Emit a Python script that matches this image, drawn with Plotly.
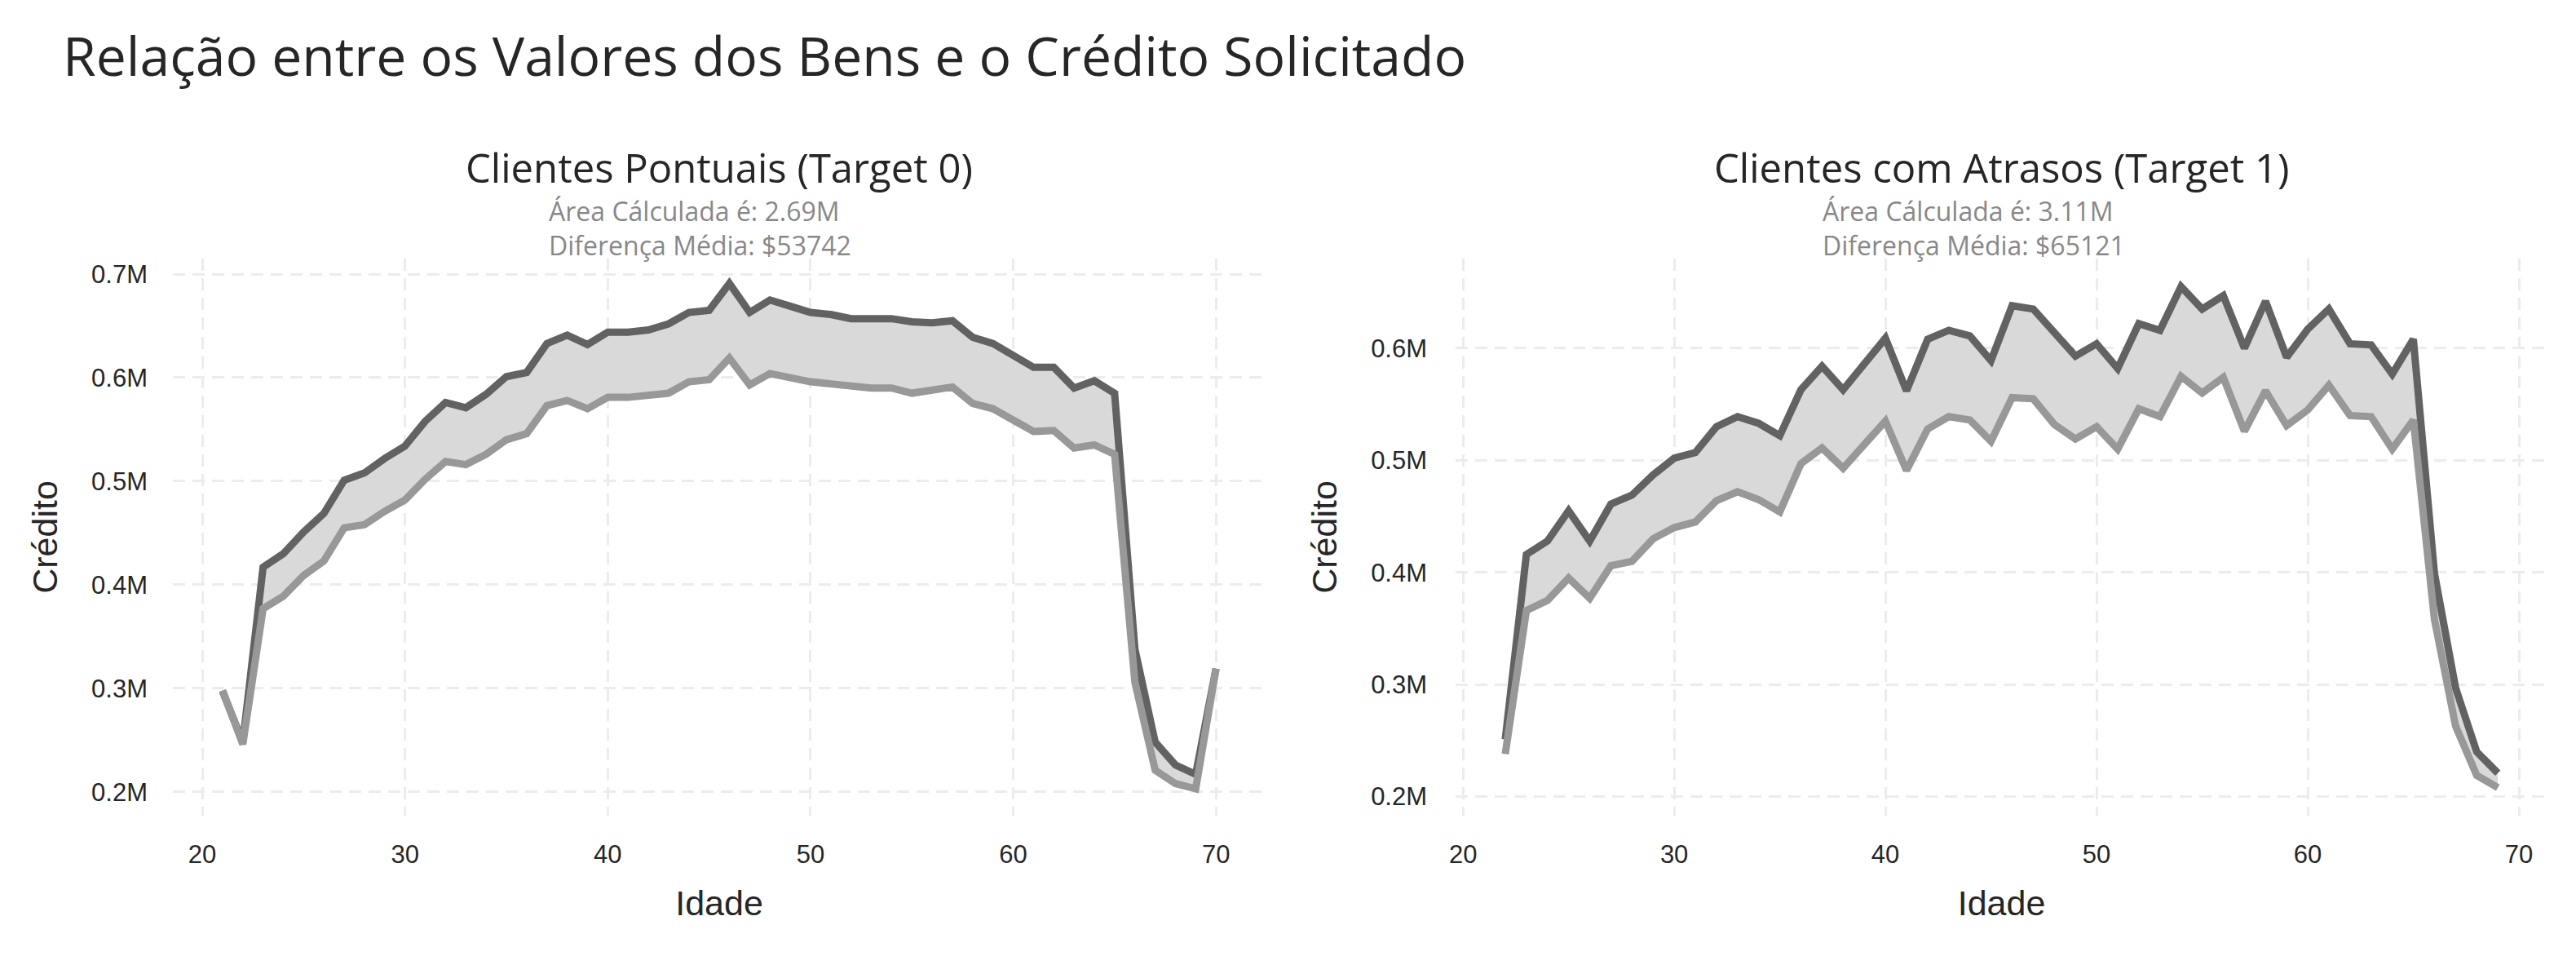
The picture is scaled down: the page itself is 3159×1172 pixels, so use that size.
import plotly.graph_objects as go

# ---------------- data (values in millions) ----------------
ages_t0 = list(range(21, 71))
credito_t0 = [0.297, 0.248, 0.417, 0.430, 0.451, 0.469, 0.501, 0.508, 0.522, 0.534,
              0.558, 0.576, 0.571, 0.584, 0.601, 0.605, 0.633, 0.641, 0.632, 0.644,
              0.644, 0.646, 0.652, 0.663, 0.665, 0.691, 0.663, 0.675, 0.669, 0.663,
              0.661, 0.657, 0.657, 0.657, 0.654, 0.653, 0.655, 0.639, 0.633, 0.621,
              0.610, 0.610, 0.590, 0.597, 0.585, 0.338, 0.248, 0.226, 0.217, 0.319]
bens_t0 = [0.298, 0.246, 0.377, 0.389, 0.409, 0.423, 0.455, 0.458, 0.471, 0.482,
           0.502, 0.519, 0.516, 0.526, 0.540, 0.546, 0.573, 0.578, 0.570, 0.581,
           0.581, 0.583, 0.585, 0.596, 0.598, 0.619, 0.593, 0.604, 0.600, 0.596,
           0.594, 0.592, 0.590, 0.590, 0.585, 0.588, 0.591, 0.575, 0.570, 0.559,
           0.548, 0.549, 0.532, 0.535, 0.526, 0.306, 0.221, 0.208, 0.203, 0.319]

ages_t1 = list(range(22, 70))
credito_t1 = [0.251, 0.416, 0.428, 0.455, 0.428, 0.461, 0.469, 0.487, 0.502, 0.507,
              0.530, 0.539, 0.533, 0.522, 0.563, 0.584, 0.563, 0.586, 0.609, 0.562,
              0.608, 0.616, 0.611, 0.589, 0.638, 0.635, 0.614, 0.593, 0.604, 0.582,
              0.622, 0.616, 0.655, 0.635, 0.647, 0.600, 0.642, 0.592, 0.617, 0.635,
              0.604, 0.603, 0.577, 0.608, 0.399, 0.297, 0.240, 0.221]
bens_t1 = [0.238, 0.366, 0.375, 0.395, 0.377, 0.406, 0.410, 0.430, 0.440, 0.445,
           0.464, 0.472, 0.465, 0.454, 0.497, 0.511, 0.493, 0.514, 0.535, 0.491,
           0.528, 0.539, 0.536, 0.517, 0.556, 0.555, 0.532, 0.519, 0.530, 0.510,
           0.546, 0.539, 0.575, 0.560, 0.574, 0.526, 0.562, 0.531, 0.545, 0.567,
           0.540, 0.539, 0.510, 0.536, 0.358, 0.263, 0.219, 0.208]

x_ticks = [20, 30, 40, 50, 60, 70]
y_ticks_t0 = [0.2, 0.3, 0.4, 0.5, 0.6, 0.7]
y_ticks_t1 = [0.2, 0.3, 0.4, 0.5, 0.6]

titles = ["Clientes Pontuais (Target 0)", "Clientes com Atrasos (Target 1)"]
area_txt = ["2.69M", "3.11M"]
diff_txt = ["$53742", "$65121"]
main_title = "Relação entre os Valores dos Bens e o Crédito Solicitado"

# ---------------- styling ----------------
DARK = "#626262"
LIGHT = "#989898"
FILL = "#d9d9d9"
GRID = "#ececec"
TXT = "#262626"
TITLE_FONT = "Open Sans"
TICK_FONT = "Liberation Sans, Arial, sans-serif"

fig = go.Figure()

panels = [
    (ages_t0, credito_t0, bens_t0, "x", "y"),
    (ages_t1, credito_t1, bens_t1, "x2", "y2"),
]
for ages, cred, bens, xa, ya in panels:
    fig.add_trace(go.Scatter(x=ages, y=bens, mode="lines", line=dict(width=0, color=LIGHT),
                             xaxis=xa, yaxis=ya, showlegend=False, hoverinfo="skip"))
    fig.add_trace(go.Scatter(x=ages, y=cred, mode="lines", line=dict(width=0, color=DARK),
                             fill="tonexty", fillcolor=FILL,
                             xaxis=xa, yaxis=ya, showlegend=False, hoverinfo="skip"))
    fig.add_trace(go.Scatter(x=ages, y=cred, mode="lines", name="Crédito",
                             line=dict(width=9, color=DARK),
                             xaxis=xa, yaxis=ya, showlegend=False))
    fig.add_trace(go.Scatter(x=ages, y=bens, mode="lines", name="Valor dos Bens",
                             line=dict(width=9, color=LIGHT),
                             xaxis=xa, yaxis=ya, showlegend=False))

axis_common = dict(
    showgrid=True, gridcolor=GRID, gridwidth=3, griddash="15px,9px",
    zeroline=False, showline=False, ticks="",
    tickfont=dict(family=TICK_FONT, size=31, color=TXT),
)

fig.update_layout(
    width=3159, height=1172,
    margin=dict(l=212, r=35, t=317, b=172),
    paper_bgcolor="white", plot_bgcolor="white",
    title=dict(text=main_title, x=77 / 3159, xanchor="left", xref="container",
               y=1 - 70 / 1172, yanchor="middle", yref="container",
               font=dict(family=TITLE_FONT, size=66, color=TXT, weight=400)),
    xaxis=dict(domain=[0, 0.4602], range=[18.55, 72.45], tickvals=x_ticks,
               ticklabelstandoff=26,
               title=dict(text="Idade", standoff=27,
                          font=dict(family=TICK_FONT, size=43, color=TXT)),
               **axis_common),
    xaxis2=dict(domain=[0.5402, 1], range=[19.65, 71.35], tickvals=x_ticks,
                ticklabelstandoff=26,
                title=dict(text="Idade", standoff=27,
                           font=dict(family=TICK_FONT, size=43, color=TXT)),
                **axis_common),
    yaxis=dict(range=[0.177, 0.715], tickvals=y_ticks_t0,
               ticktext=[f"{v:.1f}M" for v in y_ticks_t0],
               ticklabelstandoff=30,
               title=dict(text="Crédito", standoff=28,
                          font=dict(family=TICK_FONT, size=43, color=TXT)),
               **axis_common),
    yaxis2=dict(range=[0.183, 0.68], tickvals=y_ticks_t1, anchor="x2",
                ticktext=[f"{v:.1f}M" for v in y_ticks_t1],
                ticklabelstandoff=34,
                title=dict(text="Crédito", standoff=28,
                           font=dict(family=TICK_FONT, size=43, color=TXT)),
                **axis_common),
)
fig.update_layout(xaxis2_anchor="y2")

annotations = []
ann_x = [0.3425, 0.3345]
for i, (xd, t) in enumerate([("x domain", titles[0]), ("x2 domain", titles[1])]):
    annotations.append(dict(
        text=t, xref=xd, yref="paper", x=0.5, y=(1000 - 205) / 683,
        xanchor="center", yanchor="middle", showarrow=False,
        font=dict(family=TITLE_FONT, size=49, color=TXT, weight=400)))
    annotations.append(dict(
        text=f"Área Cálculada é: {area_txt[i]}<br>Diferença Média: {diff_txt[i]}",
        xref=xd, yref="paper", x=ann_x[i], y=(1000 - 279) / 683,
        xanchor="left", yanchor="middle", align="left", showarrow=False,
        font=dict(family=TITLE_FONT, size=32, color="#888888", weight=400)))
fig.update_layout(annotations=annotations)

fig.write_html("out.html")
